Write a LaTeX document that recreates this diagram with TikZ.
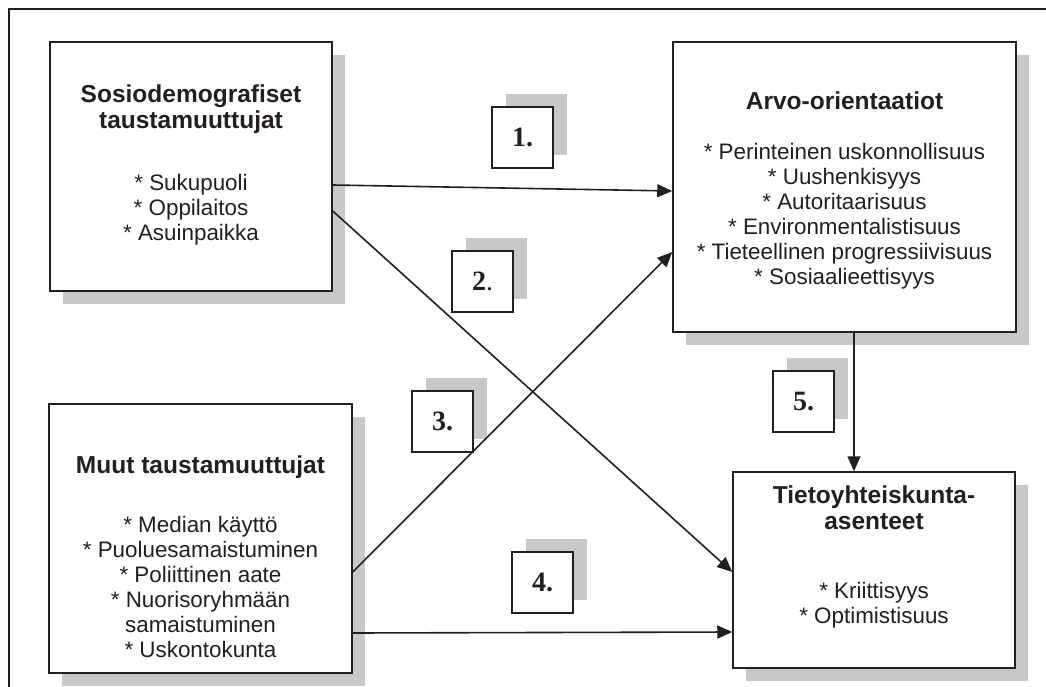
\documentclass[tikz,border=0pt]{standalone}
\usepackage{fontspec}
\setmainfont{Liberation Sans}
\newfontfamily\numfont{Liberation Serif}
\usetikzlibrary{positioning,arrows.meta,shadows}
\definecolor{shadowgray}{RGB}{200,200,202}
\definecolor{ink}{RGB}{35,31,32}

\begin{document}
\begin{tikzpicture}[x=1pt,y=-1pt,
    box/.style={draw=ink,line width=1.5pt,fill=white,inner sep=0pt,
      drop shadow={shadow xshift=13pt,shadow yshift=-13pt,fill=shadowgray,opacity=1}},
    numbox/.style={draw=ink,line width=1.5pt,fill=white,inner sep=0pt,minimum size=61pt,text=ink,
      font=\numfont\bfseries\fontsize{28}{28}\selectfont,
      drop shadow={shadow xshift=14pt,shadow yshift=13pt,fill=shadowgray,opacity=1}},
    heading/.style={anchor=north,inner sep=0pt,align=center,text=ink,
      font=\bfseries\fontsize{24.5}{26}\selectfont},
    items/.style={anchor=north,inner sep=0pt,align=center,text=ink,
      font=\fontsize{22.4}{25}\selectfont},
    link/.style={draw=ink,line width=1.6pt,-{Triangle[length=15pt,width=13pt]}}]
  \useasboundingbox (0,0) rectangle (1046,687);
  \begin{scope}
    \clip (0,0) rectangle (1046,687);
    \draw[ink,line width=1.2pt] (9,9) rectangle (1070,710);
  \end{scope}

  \node[box,minimum width=282pt,minimum height=249pt] (sosio) at (191,166.5) {};
  \node[box,minimum width=343pt,minimum height=290pt] (arvo) at (844.5,187) {};
  \node[box,minimum width=303pt,minimum height=269pt] (muut) at (200.5,538.5) {};
  \node[box,minimum width=282pt,minimum height=196pt] (tieto) at (874,570) {};

  \node[heading,below=43pt of sosio.north] (sosiotitle) {Sosiodemografiset\\taustamuuttujat};
  \node[items,below=133pt of sosio.north] (sosioitems) {* Sukupuoli\\* Oppilaitos\\* Asuinpaikka};
  \node[heading,below=50pt of arvo.north] (arvotitle) {Arvo-orientaatiot};
  \node[items,below=102pt of arvo.north] (arvoitems) {* Perinteinen uskonnollisuus\\* Uushenkisyys\\
    * Autoritaarisuus\\* Environmentalistisuus\\* Tieteellinen progressiivisuus\\* Sosiaalieettisyys};
  \node[heading,below=52pt of muut.north] (muuttitle) {Muut taustamuuttujat};
  \node[items,below=113pt of muut.north] (muutitems) {* Median käyttö\\* Puoluesamaistuminen\\
    * Poliittinen aate\\* Nuorisoryhmään\\samaistuminen\\* Uskontokunta};
  \node[heading,below=14pt of tieto.north] (tietotitle) {Tietoyhteiskunta-\\asenteet};
  \node[items,below=111pt of tieto.north] (tietoitems) {* Kriittisyys\\* Optimistisuus};

  \node[numbox] (n1) at (522.5,137.5) {1.};
  \node[numbox] (n2) at (482.5,281.5) {2\textmd{.}};
  \node[numbox] (n3) at (442.5,421.5) {3.};
  \node[numbox] (n4) at (542.5,582.5) {4.};
  \node[numbox] (n5) at (803.5,401.5) {5.};

  \draw[link] ([yshift=-18.5pt]sosio.east) -- ([yshift=-4pt]arvo.west);
  \draw[link] ([yshift=-44.5pt]sosio.east) -- ([yshift=-2pt]tieto.west);
  \draw[link] ([yshift=-33.5pt]muut.east) -- ([yshift=-65pt]arvo.west);
  \draw[link] ([yshift=-94.5pt]muut.east) -- ([yshift=-62pt]tieto.west);
  \draw[link] ([xshift=9.5pt]arvo.south) -- ([xshift=-20pt]tieto.north);
\end{tikzpicture}
\end{document}
